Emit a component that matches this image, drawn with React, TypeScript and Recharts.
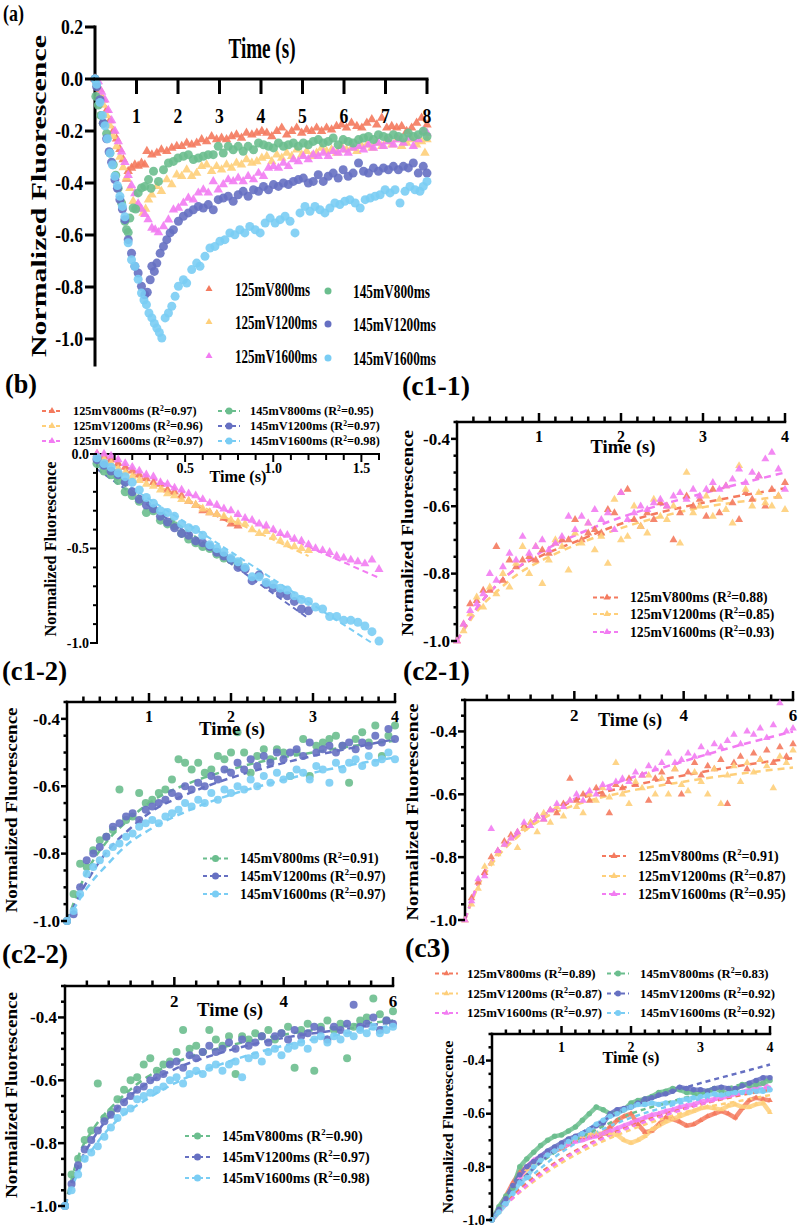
import React from 'react';
import { ComposedChart, Scatter, Line, XAxis, YAxis, Legend } from 'recharts';

const FONT = '"Liberation Serif", "Times New Roman", Times, serif';
const COL = { o: '#F47A5E', y: '#FECF7A', p: '#F27CF2', g: '#6BBE8E', b: '#6670C2', l: '#7ACDF4' };

const NAMES = ['125mV800ms', '125mV1200ms', '125mV1600ms', '145mV800ms', '145mV1200ms', '145mV1600ms'];
const COLORS6 = [COL.o, COL.y, COL.p, COL.g, COL.b, COL.l];
const SHAPES6 = ['tri', 'tri', 'tri', 'dot', 'dot', 'dot'];

// ---------------- Panel (a) data: [time (s), normalized fluorescence] ----------------
const A_125_800: [number, number][] = [[0,0],[0.04,-0.01],[0.12,-0.04],[0.2,-0.08],[0.28,-0.12],[0.36,-0.16],[0.44,-0.2],[0.52,-0.23],[0.6,-0.27],[0.68,-0.31],[0.76,-0.385],[0.8,-0.355],[0.88,-0.342],[0.96,-0.33],[1.04,-0.335],[1.12,-0.323],[1.2,-0.33],[1.25,-0.278],[1.37,-0.291],[1.49,-0.285],[1.6,-0.272],[1.73,-0.278],[1.85,-0.265],[1.97,-0.259],[2.09,-0.259],[2.21,-0.246],[2.33,-0.253],[2.45,-0.246],[2.57,-0.233],[2.69,-0.24],[2.81,-0.221],[2.93,-0.233],[3.05,-0.227],[3.17,-0.233],[3.29,-0.221],[3.41,-0.214],[3.53,-0.227],[3.65,-0.208],[3.78,-0.214],[3.9,-0.208],[4.02,-0.201],[4.14,-0.208],[4.26,-0.221],[4.38,-0.201],[4.5,-0.188],[4.62,-0.214],[4.74,-0.201],[4.86,-0.188],[4.98,-0.208],[5.1,-0.195],[5.22,-0.201],[5.34,-0.188],[5.46,-0.201],[5.58,-0.188],[5.7,-0.195],[5.82,-0.182],[5.94,-0.176],[6.06,-0.188],[6.18,-0.169],[6.31,-0.182],[6.43,-0.188],[6.55,-0.169],[6.67,-0.156],[6.79,-0.176],[6.91,-0.15],[7.03,-0.188],[7.15,-0.182],[7.27,-0.188],[7.39,-0.182],[7.51,-0.201],[7.63,-0.188],[7.75,-0.169],[7.87,-0.15],[8,-0.176]];
const A_125_1200: [number, number][] = [[0,0],[0.04,-0.02],[0.12,-0.06],[0.2,-0.1],[0.28,-0.14],[0.36,-0.18],[0.44,-0.22],[0.52,-0.26],[0.6,-0.3],[0.68,-0.34],[0.76,-0.38],[0.84,-0.42],[0.92,-0.47],[1.0,-0.49],[1.08,-0.5],[1.16,-0.515],[1.22,-0.5],[1.29,-0.464],[1.37,-0.445],[1.49,-0.413],[1.6,-0.432],[1.73,-0.387],[1.85,-0.406],[1.97,-0.368],[2.09,-0.374],[2.21,-0.349],[2.33,-0.374],[2.45,-0.362],[2.57,-0.336],[2.69,-0.33],[2.81,-0.355],[2.93,-0.336],[3.05,-0.349],[3.17,-0.33],[3.29,-0.342],[3.41,-0.323],[3.53,-0.33],[3.65,-0.31],[3.78,-0.323],[3.9,-0.317],[4.02,-0.304],[4.14,-0.297],[4.26,-0.317],[4.38,-0.291],[4.5,-0.304],[4.62,-0.285],[4.74,-0.297],[4.86,-0.272],[4.98,-0.291],[5.1,-0.278],[5.22,-0.297],[5.34,-0.285],[5.46,-0.265],[5.58,-0.278],[5.7,-0.272],[5.82,-0.285],[5.94,-0.259],[6.06,-0.272],[6.18,-0.265],[6.31,-0.278],[6.43,-0.259],[6.55,-0.253],[6.67,-0.265],[6.79,-0.246],[6.91,-0.259],[7.03,-0.24],[7.15,-0.253],[7.27,-0.233],[7.39,-0.259],[7.51,-0.246],[7.63,-0.233],[7.75,-0.253],[7.87,-0.24],[7.95,-0.285],[8,-0.233]];
const A_125_1600: [number, number][] = [[0,0],[0.08,-0.01],[0.16,-0.05],[0.24,-0.08],[0.32,-0.12],[0.4,-0.16],[0.48,-0.2],[0.56,-0.24],[0.64,-0.28],[0.72,-0.32],[0.8,-0.37],[0.88,-0.41],[0.96,-0.44],[1.04,-0.48],[1.12,-0.5],[1.2,-0.52],[1.28,-0.54],[1.37,-0.573],[1.45,-0.58],[1.53,-0.59],[1.65,-0.567],[1.77,-0.541],[1.89,-0.503],[2.01,-0.496],[2.13,-0.477],[2.25,-0.458],[2.37,-0.464],[2.49,-0.438],[2.61,-0.426],[2.73,-0.438],[2.85,-0.394],[2.97,-0.426],[3.09,-0.406],[3.21,-0.387],[3.33,-0.394],[3.45,-0.381],[3.57,-0.394],[3.69,-0.374],[3.82,-0.387],[3.94,-0.362],[4.06,-0.374],[4.18,-0.342],[4.3,-0.336],[4.42,-0.342],[4.54,-0.323],[4.66,-0.336],[4.78,-0.31],[4.9,-0.317],[5.02,-0.297],[5.14,-0.31],[5.26,-0.291],[5.38,-0.297],[5.5,-0.285],[5.62,-0.297],[5.74,-0.278],[5.86,-0.285],[5.98,-0.272],[6.1,-0.285],[6.22,-0.265],[6.35,-0.259],[6.47,-0.272],[6.59,-0.253],[6.71,-0.265],[6.83,-0.246],[6.95,-0.259],[7.07,-0.24],[7.19,-0.253],[7.31,-0.233],[7.43,-0.246],[7.55,-0.227],[7.67,-0.259],[7.79,-0.233],[7.91,-0.201],[8,-0.208]];
const A_145_800: [number, number][] = [[0,0],[0.02,-0.067],[0.08,-0.1],[0.14,-0.14],[0.2,-0.17],[0.28,-0.21],[0.36,-0.285],[0.44,-0.33],[0.5,-0.37],[0.56,-0.42],[0.64,-0.477],[0.72,-0.547],[0.76,-0.58],[0.8,-0.59],[0.84,-0.535],[0.92,-0.496],[0.98,-0.5],[1.04,-0.438],[1.12,-0.419],[1.2,-0.413],[1.29,-0.387],[1.35,-0.42],[1.41,-0.355],[1.53,-0.394],[1.65,-0.349],[1.77,-0.323],[1.89,-0.317],[2.0,-0.304],[2.13,-0.297],[2.25,-0.291],[2.37,-0.31],[2.49,-0.304],[2.61,-0.297],[2.73,-0.291],[2.85,-0.291],[2.97,-0.259],[3.09,-0.285],[3.21,-0.259],[3.33,-0.272],[3.45,-0.259],[3.57,-0.278],[3.69,-0.259],[3.82,-0.272],[3.94,-0.246],[4.06,-0.253],[4.18,-0.259],[4.3,-0.265],[4.42,-0.246],[4.54,-0.259],[4.66,-0.253],[4.78,-0.246],[4.9,-0.259],[5.02,-0.246],[5.14,-0.253],[5.26,-0.24],[5.38,-0.233],[5.5,-0.246],[5.62,-0.24],[5.74,-0.227],[5.86,-0.253],[5.98,-0.233],[6.1,-0.24],[6.22,-0.246],[6.35,-0.233],[6.47,-0.227],[6.59,-0.221],[6.71,-0.233],[6.83,-0.214],[6.95,-0.221],[7.07,-0.227],[7.19,-0.214],[7.31,-0.221],[7.43,-0.227],[7.55,-0.208],[7.67,-0.221],[7.79,-0.214],[7.91,-0.201],[8,-0.221]];
const A_145_1200: [number, number][] = [[0,0],[0.04,-0.03],[0.12,-0.08],[0.2,-0.17],[0.28,-0.23],[0.34,-0.28],[0.4,-0.32],[0.48,-0.387],[0.54,-0.42],[0.6,-0.464],[0.66,-0.5],[0.72,-0.541],[0.8,-0.618],[0.88,-0.67],[0.96,-0.72],[1.04,-0.746],[1.12,-0.797],[1.2,-0.83],[1.26,-0.82],[1.33,-0.772],[1.37,-0.72],[1.43,-0.74],[1.49,-0.708],[1.57,-0.67],[1.65,-0.644],[1.73,-0.618],[1.81,-0.592],[1.89,-0.58],[2.01,-0.547],[2.13,-0.528],[2.25,-0.515],[2.37,-0.503],[2.49,-0.49],[2.61,-0.496],[2.73,-0.483],[2.85,-0.503],[2.97,-0.464],[3.09,-0.458],[3.21,-0.451],[3.33,-0.47],[3.45,-0.445],[3.57,-0.432],[3.69,-0.451],[3.82,-0.426],[3.94,-0.432],[4.06,-0.413],[4.18,-0.426],[4.3,-0.406],[4.42,-0.413],[4.54,-0.4],[4.66,-0.406],[4.78,-0.394],[4.9,-0.387],[5.02,-0.381],[5.14,-0.4],[5.26,-0.394],[5.38,-0.368],[5.5,-0.394],[5.62,-0.374],[5.74,-0.362],[5.86,-0.381],[5.98,-0.349],[6.1,-0.374],[6.22,-0.362],[6.35,-0.323],[6.47,-0.355],[6.59,-0.362],[6.71,-0.342],[6.83,-0.355],[6.95,-0.342],[7.07,-0.349],[7.19,-0.336],[7.31,-0.349],[7.43,-0.336],[7.55,-0.342],[7.67,-0.323],[7.79,-0.362],[7.91,-0.336],[8,-0.362]];
const A_145_1600: [number, number][] = [[0,0],[0.04,-0.02],[0.12,-0.09],[0.18,-0.14],[0.24,-0.18],[0.3,-0.23],[0.36,-0.285],[0.42,-0.33],[0.48,-0.374],[0.54,-0.41],[0.6,-0.451],[0.66,-0.49],[0.72,-0.53],[0.8,-0.63],[0.88,-0.695],[0.96,-0.72],[1.04,-0.77],[1.12,-0.823],[1.18,-0.85],[1.24,-0.868],[1.3,-0.9],[1.37,-0.919],[1.43,-0.94],[1.49,-0.958],[1.55,-0.975],[1.61,-0.996],[1.69,-0.919],[1.77,-0.9],[1.85,-0.874],[1.93,-0.836],[2.01,-0.797],[2.13,-0.772],[2.21,-0.785],[2.33,-0.733],[2.45,-0.708],[2.53,-0.72],[2.65,-0.682],[2.77,-0.65],[2.89,-0.644],[3.01,-0.624],[3.13,-0.618],[3.25,-0.592],[3.37,-0.599],[3.49,-0.58],[3.61,-0.592],[3.73,-0.567],[3.86,-0.58],[3.98,-0.592],[4.1,-0.554],[4.22,-0.535],[4.34,-0.554],[4.46,-0.541],[4.58,-0.528],[4.7,-0.547],[4.82,-0.592],[4.94,-0.515],[5.06,-0.49],[5.18,-0.509],[5.3,-0.49],[5.42,-0.503],[5.54,-0.515],[5.66,-0.496],[5.78,-0.477],[5.9,-0.483],[6.02,-0.47],[6.14,-0.464],[6.27,-0.477],[6.39,-0.496],[6.51,-0.464],[6.63,-0.458],[6.75,-0.451],[6.87,-0.445],[6.99,-0.426],[7.11,-0.438],[7.23,-0.426],[7.35,-0.477],[7.47,-0.432],[7.59,-0.413],[7.71,-0.426],[7.83,-0.432],[7.91,-0.413],[8,-0.394]];
const A_XTICKS = [1, 2, 3, 4, 5, 6, 7, 8];
const A_YTICKS = [0.2, 0, -0.2, -0.4, -0.6, -0.8, -1.0];
const A_XRANGE = [{ t: 0, v: 0 }, { t: 8, v: 1 }];

// ---------------- Panel (b) data ----------------
const B_125_800: [number, number][] = [[0,0],[0.04,-0.01],[0.08,-0.03],[0.12,-0.05],[0.16,-0.07],[0.2,-0.09],[0.24,-0.11],[0.28,-0.13],[0.32,-0.15],[0.36,-0.16],[0.4,-0.19],[0.44,-0.2],[0.48,-0.22],[0.52,-0.25],[0.56,-0.27],[0.6,-0.3],[0.64,-0.31],[0.68,-0.32],[0.72,-0.34],[0.76,-0.37],[0.8,-0.38]];
const B_125_1200: [number, number][] = [[0,-0.01],[0.04,-0.03],[0.08,-0.05],[0.12,-0.08],[0.16,-0.1],[0.2,-0.12],[0.24,-0.14],[0.28,-0.16],[0.32,-0.17],[0.36,-0.19],[0.4,-0.21],[0.44,-0.22],[0.48,-0.24],[0.52,-0.25],[0.56,-0.27],[0.6,-0.29],[0.64,-0.31],[0.68,-0.32],[0.72,-0.33],[0.76,-0.35],[0.8,-0.36],[0.84,-0.37],[0.88,-0.4],[0.92,-0.42],[0.96,-0.41],[1.0,-0.44],[1.04,-0.46],[1.08,-0.48],[1.12,-0.49],[1.16,-0.5],[1.2,-0.51]];
const B_125_1600: [number, number][] = [[0,0],[0.04,0],[0.08,-0.01],[0.12,-0.03],[0.16,-0.05],[0.2,-0.07],[0.24,-0.09],[0.28,-0.11],[0.32,-0.12],[0.36,-0.15],[0.4,-0.16],[0.44,-0.18],[0.48,-0.19],[0.52,-0.21],[0.56,-0.22],[0.6,-0.24],[0.64,-0.26],[0.68,-0.27],[0.72,-0.29],[0.76,-0.3],[0.8,-0.32],[0.84,-0.34],[0.88,-0.35],[0.92,-0.37],[0.96,-0.38],[1.0,-0.4],[1.04,-0.42],[1.08,-0.43],[1.12,-0.45],[1.16,-0.46],[1.2,-0.48],[1.24,-0.5],[1.28,-0.51],[1.32,-0.52],[1.36,-0.54],[1.4,-0.55],[1.44,-0.56],[1.48,-0.57],[1.52,-0.58],[1.56,-0.56],[1.6,-0.61]];
const B_145_800: [number, number][] = [[0,-0.05],[0.04,-0.09],[0.08,-0.11],[0.12,-0.14],[0.16,-0.2],[0.2,-0.22],[0.24,-0.25],[0.28,-0.31],[0.32,-0.3],[0.36,-0.35],[0.4,-0.37],[0.44,-0.38],[0.48,-0.42],[0.52,-0.45],[0.56,-0.47],[0.6,-0.49],[0.64,-0.5],[0.68,-0.53],[0.72,-0.55],[0.76,-0.56],[0.8,-0.58]];
const B_145_1200: [number, number][] = [[0,-0.03],[0.04,-0.06],[0.08,-0.09],[0.12,-0.11],[0.16,-0.15],[0.2,-0.2],[0.24,-0.24],[0.28,-0.27],[0.32,-0.29],[0.36,-0.33],[0.4,-0.36],[0.44,-0.39],[0.48,-0.42],[0.52,-0.43],[0.56,-0.46],[0.6,-0.47],[0.64,-0.49],[0.68,-0.52],[0.72,-0.54],[0.76,-0.56],[0.8,-0.6],[0.84,-0.61],[0.88,-0.67],[0.92,-0.64],[0.96,-0.69],[1.0,-0.71],[1.04,-0.74],[1.08,-0.75],[1.12,-0.78],[1.16,-0.82],[1.2,-0.83]];
const B_145_1600: [number, number][] = [[0,-0.02],[0.04,-0.05],[0.08,-0.07],[0.12,-0.1],[0.16,-0.12],[0.2,-0.15],[0.24,-0.19],[0.28,-0.23],[0.32,-0.26],[0.36,-0.3],[0.4,-0.31],[0.44,-0.33],[0.48,-0.37],[0.52,-0.39],[0.56,-0.4],[0.6,-0.43],[0.64,-0.48],[0.68,-0.5],[0.72,-0.52],[0.76,-0.55],[0.8,-0.57],[0.84,-0.6],[0.88,-0.65],[0.92,-0.65],[0.96,-0.68],[1.0,-0.69],[1.04,-0.71],[1.08,-0.72],[1.12,-0.75],[1.16,-0.77],[1.2,-0.78],[1.24,-0.81],[1.28,-0.82],[1.32,-0.86],[1.36,-0.86],[1.4,-0.88],[1.44,-0.88],[1.48,-0.89],[1.52,-0.91],[1.56,-0.94],[1.6,-0.99]];
const B_FIT_125_800: [number, number][] = [[0,-0.01],[0.8,-0.385]];
const B_FIT_125_1200: [number, number][] = [[0,-0.02],[1.2,-0.54]];
const B_FIT_125_1600: [number, number][] = [[0,0],[1.6,-0.655]];
const B_FIT_145_800: [number, number][] = [[0,-0.06],[0.8,-0.6]];
const B_FIT_145_1200: [number, number][] = [[0,-0.08],[1.2,-0.87]];
const B_FIT_145_1600: [number, number][] = [[0,-0.06],[1.56,-1.0]];
const B_R2 = ['0.97', '0.96', '0.97', '0.95', '0.97', '0.98'];
const B_XTICKS = [0.1,0.2,0.3,0.4,0.5,0.6,0.7,0.8,0.9,1.0,1.1,1.2,1.3,1.4,1.5,1.6];
const B_YTICKS = [0,-0.1,-0.2,-0.3,-0.4,-0.5,-0.6,-0.7,-0.8,-0.9,-1.0];

// ---------------- Panels (c1-x): 0-4 s ----------------
const T_C1 = [0,0.08,0.16,0.24,0.32,0.4,0.48,0.56,0.64,0.72,0.8,0.88,0.96,1.04,1.12,1.2,1.28,1.36,1.44,1.52,1.6,1.68,1.76,1.84,1.92,2.0,2.08,2.16,2.24,2.32,2.4,2.48,2.56,2.64,2.72,2.8,2.88,2.96,3.04,3.12,3.2,3.28,3.36,3.44,3.52,3.6,3.68,3.76,3.84,3.92,4.0];
const C11_125_800 = [-1.0,-0.95,-0.89,-0.88,-0.85,-0.85,-0.72,-0.82,-0.76,-0.78,-0.76,-0.75,-0.76,-0.73,-0.74,-0.71,-0.7,-0.7,-0.64,-0.7,-0.68,-0.67,-0.68,-0.61,-0.62,-0.56,-0.55,-0.64,-0.66,-0.62,-0.64,-0.59,-0.6,-0.7,-0.62,-0.57,-0.6,-0.58,-0.63,-0.55,-0.62,-0.54,-0.59,-0.64,-0.56,-0.58,-0.51,-0.6,-0.55,-0.57,-0.53];
const C11_125_1200 = [-1.0,-0.97,-0.92,-0.87,-0.9,-0.84,-0.86,-0.8,-0.84,-0.77,-0.72,-0.8,-0.72,-0.83,-0.76,-0.7,-0.72,-0.79,-0.68,-0.71,-0.65,-0.73,-0.69,-0.77,-0.58,-0.7,-0.69,-0.6,-0.66,-0.68,-0.58,-0.63,-0.64,-0.6,-0.71,-0.5,-0.62,-0.6,-0.57,-0.63,-0.58,-0.61,-0.65,-0.48,-0.55,-0.6,-0.56,-0.59,-0.6,-0.57,-0.61];
const C11_125_1600 = [-1.0,-0.95,-0.91,-0.89,-0.86,-0.8,-0.82,-0.78,-0.74,-0.76,-0.69,-0.74,-0.72,-0.7,-0.73,-0.71,-0.69,-0.63,-0.67,-0.63,-0.65,-0.61,-0.64,-0.62,-0.67,-0.56,-0.64,-0.62,-0.6,-0.61,-0.59,-0.58,-0.6,-0.57,-0.56,-0.58,-0.55,-0.57,-0.55,-0.53,-0.55,-0.54,-0.52,-0.49,-0.53,-0.5,-0.51,-0.46,-0.44,-0.49,-0.55];
const C12_145_800 = [-1.0,-0.92,-0.83,-0.84,-0.79,-0.76,-0.75,-0.73,-0.61,-0.7,-0.69,-0.62,-0.65,-0.64,-0.62,-0.61,-0.58,-0.52,-0.53,-0.55,-0.53,-0.56,-0.55,-0.51,-0.52,-0.5,-0.44,-0.5,-0.56,-0.51,-0.49,-0.52,-0.49,-0.5,-0.57,-0.5,-0.46,-0.57,-0.48,-0.47,-0.46,-0.45,-0.48,-0.59,-0.46,-0.44,-0.47,-0.42,-0.51,-0.45,-0.42];
const C12_145_1200 = [-1.0,-0.98,-0.9,-0.82,-0.8,-0.78,-0.75,-0.72,-0.71,-0.69,-0.68,-0.7,-0.67,-0.66,-0.65,-0.64,-0.62,-0.63,-0.6,-0.61,-0.59,-0.6,-0.57,-0.58,-0.55,-0.56,-0.53,-0.55,-0.52,-0.54,-0.51,-0.53,-0.5,-0.52,-0.5,-0.49,-0.51,-0.47,-0.5,-0.49,-0.48,-0.5,-0.48,-0.47,-0.49,-0.47,-0.48,-0.45,-0.47,-0.43,-0.46];
const C12_145_1600 = [-1.0,-0.97,-0.92,-0.86,-0.84,-0.82,-0.8,-0.78,-0.77,-0.75,-0.74,-0.72,-0.71,-0.7,-0.71,-0.69,-0.68,-0.67,-0.65,-0.66,-0.64,-0.65,-0.62,-0.64,-0.61,-0.62,-0.6,-0.61,-0.58,-0.6,-0.57,-0.59,-0.56,-0.58,-0.57,-0.55,-0.56,-0.58,-0.54,-0.55,-0.59,-0.53,-0.55,-0.53,-0.52,-0.54,-0.51,-0.53,-0.52,-0.5,-0.52];
const T_FIT1 = [0,0.25,0.5,0.75,1,1.5,2,2.5,3,3.5,4];
const C11_FIT_125_800 = [-1.0,-0.9,-0.83,-0.78,-0.75,-0.7,-0.652,-0.617,-0.59,-0.567,-0.547];
const C11_FIT_125_1200 = [-1.0,-0.91,-0.85,-0.8,-0.765,-0.71,-0.665,-0.63,-0.603,-0.585,-0.57];
const C11_FIT_125_1600 = [-1.0,-0.9,-0.83,-0.78,-0.74,-0.68,-0.633,-0.595,-0.562,-0.53,-0.5];
const C12_FIT_145_800 = [-1.0,-0.85,-0.76,-0.7,-0.65,-0.59,-0.55,-0.52,-0.5,-0.48,-0.465];
const C12_FIT_145_1200 = [-1.0,-0.88,-0.79,-0.73,-0.68,-0.62,-0.575,-0.54,-0.51,-0.485,-0.46];
const C12_FIT_145_1600 = [-1.0,-0.9,-0.83,-0.77,-0.73,-0.67,-0.625,-0.59,-0.56,-0.535,-0.515];
const C11_R2 = ['0.88', '0.85', '0.93'];
const C12_R2 = ['0.91', '0.97', '0.97'];
const C1_XTICKS = [0.2,0.4,0.6,0.8,1,1.2,1.4,1.6,1.8,2,2.2,2.4,2.6,2.8,3,3.2,3.4,3.6,3.8,4];
const C1_YTICKS = [-1.0,-0.95,-0.9,-0.85,-0.8,-0.75,-0.7,-0.65,-0.6,-0.55,-0.5,-0.45,-0.4,-0.35];

// ---------------- Panels (c2-x): 0-6 s ----------------
const T_C2 = [0,0.12,0.24,0.36,0.48,0.6,0.72,0.84,0.96,1.08,1.2,1.32,1.44,1.56,1.68,1.8,1.92,2.04,2.16,2.28,2.4,2.52,2.64,2.76,2.88,3.0,3.12,3.24,3.36,3.48,3.6,3.72,3.84,3.96,4.08,4.2,4.32,4.44,4.56,4.68,4.8,4.92,5.04,5.16,5.28,5.4,5.52,5.64,5.76,5.88,6.0];
const C21_125_800 = [-1.0,-0.93,-0.88,-0.85,-0.8,-0.78,-0.75,-0.73,-0.72,-0.7,-0.69,-0.67,-0.68,-0.65,-0.66,-0.63,-0.55,-0.62,-0.6,-0.62,-0.58,-0.6,-0.66,-0.57,-0.58,-0.55,-0.57,-0.54,-0.62,-0.55,-0.53,-0.56,-0.52,-0.6,-0.53,-0.5,-0.54,-0.51,-0.52,-0.49,-0.63,-0.5,-0.48,-0.52,-0.47,-0.49,-0.46,-0.5,-0.45,-0.48,-0.44];
const C21_125_1200 = [-1.0,-0.95,-0.9,-0.83,-0.82,-0.79,-0.76,-0.74,-0.77,-0.71,-0.69,-0.72,-0.66,-0.69,-0.64,-0.67,-0.62,-0.64,-0.66,-0.6,-0.62,-0.58,-0.61,-0.5,-0.6,-0.63,-0.56,-0.58,-0.54,-0.6,-0.55,-0.6,-0.52,-0.57,-0.59,-0.53,-0.56,-0.6,-0.52,-0.63,-0.54,-0.51,-0.56,-0.5,-0.53,-0.49,-0.51,-0.58,-0.48,-0.5,-0.46];
const C21_125_1600 = [-1.0,-0.94,-0.87,-0.86,-0.71,-0.78,-0.76,-0.74,-0.72,-0.69,-0.7,-0.67,-0.68,-0.65,-0.63,-0.64,-0.62,-0.6,-0.62,-0.59,-0.6,-0.57,-0.58,-0.56,-0.55,-0.56,-0.53,-0.54,-0.51,-0.52,-0.5,-0.47,-0.5,-0.49,-0.47,-0.48,-0.45,-0.47,-0.44,-0.45,-0.43,-0.41,-0.44,-0.4,-0.41,-0.39,-0.42,-0.38,-0.31,-0.4,-0.39];
const C22_145_800 = [-1.0,-0.9,-0.85,-0.79,-0.76,-0.61,-0.72,-0.7,-0.66,-0.63,-0.6,-0.59,-0.55,-0.53,-0.57,-0.55,-0.54,-0.51,-0.44,-0.5,-0.49,-0.51,-0.44,-0.47,-0.49,-0.46,-0.58,-0.46,-0.47,-0.45,-0.46,-0.44,-0.47,-0.45,-0.43,-0.56,-0.44,-0.42,-0.57,-0.43,-0.41,-0.44,-0.42,-0.53,-0.43,-0.41,-0.4,-0.34,-0.39,-0.41,-0.38];
const C22_145_1200 = [-1.0,-0.93,-0.87,-0.82,-0.79,-0.76,-0.73,-0.71,-0.69,-0.67,-0.65,-0.63,-0.62,-0.6,-0.59,-0.58,-0.55,-0.54,-0.56,-0.52,-0.53,-0.51,-0.49,-0.51,-0.5,-0.48,-0.5,-0.47,-0.49,-0.48,-0.46,-0.48,-0.46,-0.45,-0.47,-0.44,-0.46,-0.45,-0.43,-0.44,-0.47,-0.43,-0.44,-0.42,-0.36,-0.43,-0.42,-0.4,-0.44,-0.41,-0.42];
const C22_145_1600 = [-1.0,-0.95,-0.9,-0.85,-0.83,-0.81,-0.78,-0.75,-0.72,-0.7,-0.69,-0.66,-0.65,-0.64,-0.63,-0.62,-0.6,-0.59,-0.61,-0.58,-0.57,-0.58,-0.56,-0.55,-0.57,-0.55,-0.54,-0.59,-0.53,-0.52,-0.54,-0.51,-0.5,-0.52,-0.5,-0.49,-0.48,-0.5,-0.47,-0.46,-0.48,-0.46,-0.47,-0.45,-0.46,-0.44,-0.45,-0.43,-0.45,-0.44,-0.43];
const T_FIT2 = [0,0.25,0.5,1,1.5,2,3,4,5,6];
const C21_FIT_125_800 = [-1.0,-0.88,-0.81,-0.72,-0.66,-0.62,-0.575,-0.54,-0.51,-0.485];
const C21_FIT_125_1200 = [-1.0,-0.89,-0.82,-0.73,-0.67,-0.635,-0.59,-0.56,-0.535,-0.515];
const C21_FIT_125_1600 = [-1.0,-0.88,-0.81,-0.72,-0.66,-0.615,-0.55,-0.495,-0.445,-0.4];
const C22_FIT_145_800 = [-1.0,-0.84,-0.76,-0.66,-0.59,-0.545,-0.49,-0.455,-0.43,-0.41];
const C22_FIT_145_1200 = [-1.0,-0.87,-0.79,-0.68,-0.61,-0.565,-0.505,-0.465,-0.44,-0.415];
const C22_FIT_145_1600 = [-1.0,-0.89,-0.82,-0.72,-0.66,-0.61,-0.54,-0.49,-0.455,-0.425];
const C21_R2 = ['0.91', '0.87', '0.95'];
const C22_R2 = ['0.90', '0.97', '0.98'];
const C2_XTICKS = [0.4,0.8,1.2,1.6,2,2.4,2.8,3.2,3.6,4,4.4,4.8,5.2,5.6,6];
const C2_YTICKS = [-1.0,-0.95,-0.9,-0.85,-0.8,-0.75,-0.7,-0.65,-0.6,-0.55,-0.5,-0.45,-0.4,-0.35,-0.3];

// ---------------- Panel (c3): averaged traces, 0-4 s ----------------
const T_C3 = [0,0.1,0.2,0.3,0.4,0.5,0.6,0.7,0.8,0.9,1.0,1.1,1.2,1.3,1.4,1.5,1.6,1.7,1.8,1.9,2.0,2.1,2.2,2.3,2.4,2.5,2.6,2.7,2.8,2.9,3.0,3.1,3.2,3.3,3.4,3.5,3.6,3.7,3.8,3.9,4.0];
const C3_125_800 = [-1.0,-0.96,-0.91,-0.86,-0.82,-0.8,-0.78,-0.765,-0.75,-0.74,-0.73,-0.715,-0.7,-0.69,-0.685,-0.68,-0.675,-0.65,-0.625,-0.61,-0.6,-0.64,-0.67,-0.665,-0.64,-0.615,-0.62,-0.63,-0.645,-0.64,-0.625,-0.61,-0.6,-0.59,-0.6,-0.615,-0.58,-0.55,-0.54,-0.545,-0.55];
const C3_125_1200 = [-1.0,-0.97,-0.92,-0.87,-0.84,-0.81,-0.79,-0.77,-0.75,-0.735,-0.725,-0.71,-0.695,-0.685,-0.68,-0.675,-0.675,-0.675,-0.68,-0.7,-0.71,-0.7,-0.685,-0.66,-0.645,-0.63,-0.62,-0.61,-0.6,-0.59,-0.58,-0.575,-0.58,-0.585,-0.57,-0.565,-0.575,-0.575,-0.565,-0.56,-0.595];
const C3_125_1600 = [-1.0,-0.96,-0.92,-0.87,-0.84,-0.8,-0.775,-0.76,-0.745,-0.735,-0.725,-0.715,-0.705,-0.7,-0.69,-0.685,-0.675,-0.665,-0.655,-0.645,-0.635,-0.625,-0.615,-0.605,-0.6,-0.59,-0.585,-0.575,-0.57,-0.565,-0.555,-0.55,-0.545,-0.54,-0.535,-0.525,-0.52,-0.51,-0.5,-0.485,-0.505];
const C3_145_800 = [-1.0,-0.95,-0.91,-0.88,-0.8,-0.77,-0.745,-0.72,-0.7,-0.685,-0.68,-0.665,-0.65,-0.625,-0.6,-0.575,-0.585,-0.6,-0.595,-0.585,-0.56,-0.55,-0.545,-0.535,-0.52,-0.515,-0.505,-0.51,-0.52,-0.52,-0.525,-0.515,-0.505,-0.515,-0.525,-0.51,-0.49,-0.495,-0.49,-0.485,-0.475];
const C3_145_1200 = [-1.0,-0.96,-0.92,-0.87,-0.83,-0.8,-0.78,-0.76,-0.74,-0.725,-0.71,-0.695,-0.685,-0.675,-0.66,-0.645,-0.635,-0.6,-0.585,-0.58,-0.575,-0.56,-0.545,-0.54,-0.53,-0.525,-0.515,-0.5,-0.505,-0.51,-0.51,-0.515,-0.505,-0.5,-0.505,-0.505,-0.495,-0.485,-0.475,-0.465,-0.465];
const C3_145_1600 = [-1.0,-0.97,-0.94,-0.9,-0.86,-0.84,-0.8,-0.775,-0.755,-0.74,-0.725,-0.705,-0.69,-0.675,-0.66,-0.64,-0.625,-0.61,-0.6,-0.585,-0.575,-0.565,-0.565,-0.56,-0.565,-0.56,-0.56,-0.55,-0.545,-0.54,-0.535,-0.53,-0.525,-0.53,-0.525,-0.52,-0.52,-0.52,-0.515,-0.515,-0.51];
const T_FIT3 = [0,0.25,0.5,1,1.5,2,2.5,3,3.5,4];
const C3_FIT_125_800 = [-1.0,-0.92,-0.86,-0.77,-0.7,-0.645,-0.6,-0.565,-0.535,-0.51];
const C3_FIT_125_1200 = [-1.0,-0.93,-0.875,-0.785,-0.715,-0.66,-0.615,-0.58,-0.555,-0.53];
const C3_FIT_125_1600 = [-1.0,-0.93,-0.87,-0.775,-0.705,-0.65,-0.605,-0.565,-0.53,-0.5];
const C3_FIT_145_800 = [-1.0,-0.9,-0.83,-0.73,-0.66,-0.6,-0.56,-0.525,-0.495,-0.47];
const C3_FIT_145_1200 = [-1.0,-0.9,-0.83,-0.72,-0.64,-0.575,-0.525,-0.485,-0.45,-0.415];
const C3_FIT_145_1600 = [-1.0,-0.91,-0.85,-0.745,-0.67,-0.615,-0.575,-0.545,-0.52,-0.5];
const C3_R2 = ['0.89', '0.87', '0.97', '0.83', '0.92', '0.92'];
const C3_XTICKS = [0.2,0.4,0.6,0.8,1,1.2,1.4,1.6,1.8,2,2.2,2.4,2.6,2.8,3,3.2,3.4,3.6,3.8,4];
const C3_YTICKS = C2_YTICKS;

// ---------------- helpers ----------------
type Pt = { t: number; v: number };
const pairs = (a: [number, number][]): Pt[] => a.map(([t, v]) => ({ t, v }));
const zipTV = (T: number[], V: number[]): Pt[] => T.map((t, i) => ({ t, v: V[i] }));

function triPoints(cx: number, cy: number, s: number) {
  const h = s * 0.866;
  return `${cx},${cy - (h * 2) / 3} ${cx - s / 2},${cy + h / 3} ${cx + s / 2},${cy + h / 3}`;
}
function Mark({ kind, cx, cy, size, color, op = 0.9 }: any) {
  if (cx == null || cy == null || isNaN(cx) || isNaN(cy)) return <g />;
  return kind === 'tri' ? (
    <polygon points={triPoints(cx, cy, size)} fill={color} fillOpacity={op} />
  ) : (
    <circle cx={cx} cy={cy} r={size / 2} fill={color} fillOpacity={op} />
  );
}
const shapeFn = (kind: string, size: number, color: string, op = 0.9) => (p: any) => (
  <Mark kind={kind} cx={p.cx} cy={p.cy} size={size} color={color} op={op} />
);
const emptyShape = () => <g />;

const near = (arr: number[], v: number) => arr.some((m) => Math.abs(m - v) < 1e-6);

const xTick = (c: any) => (p: any) => {
  const { x, y, payload } = p;
  const v = payload.value;
  const maj = near(c.major, v);
  const len = maj ? c.majorLen : c.minorLen;
  return (
    <g>
      <line x1={x} y1={y} x2={x} y2={y + c.dir * len} stroke="#000" strokeWidth={c.sw} />
      {maj && (
        <text transform={`translate(${x},${y + c.dy}) scale(${c.sx},1)`} textAnchor="middle" fontFamily={FONT} fontWeight={700} fontSize={c.fs} fill="#000">
          {c.fmt(v)}
        </text>
      )}
    </g>
  );
};
const yTick = (c: any) => (p: any) => {
  const { x, y, payload } = p;
  const v = payload.value;
  const maj = near(c.major, v);
  const len = maj ? c.majorLen : c.minorLen;
  return (
    <g>
      <line x1={x} y1={y} x2={x - len} y2={y} stroke="#000" strokeWidth={c.sw} />
      {maj && (
        <text transform={`translate(${x - c.gap},${y + c.fs * 0.34}) scale(${c.sx},1)`} textAnchor="end" fontFamily={FONT} fontWeight={700} fontSize={c.fs} fill="#000">
          {c.fmt(v)}
        </text>
      )}
    </g>
  );
};
const f1 = (v: number) => (Math.abs(v) < 1e-9 ? '0.0' : v.toFixed(1));
const f0 = (v: number) => String(Math.round(v));

function RText({ x, y, fs, name, r2 }: any) {
  return (
    <text x={x} y={y} fontFamily={FONT} fontWeight={700} fontSize={fs} fill="#000">
      {name} (R<tspan dy={-fs * 0.38} fontSize={fs * 0.62}>2</tspan>
      <tspan dy={fs * 0.38}>={r2})</tspan>
    </text>
  );
}
function LegRow({ x1, x2, y, color, kind, size, tx, fs, name, r2 }: any) {
  return (
    <g>
      <line x1={x1} y1={y} x2={x2} y2={y} stroke={color} strokeWidth={2} strokeDasharray="4 3" />
      <Mark kind={kind} cx={(x1 + x2) / 2} cy={y} size={size} color={color} op={1} />
      <RText x={tx} y={y + fs * 0.34} fs={fs} name={name} r2={r2} />
    </g>
  );
}

type SeriesDef = { data: Pt[]; color: string; kind: string; size: number };
type FitDef = { data: Pt[]; color: string };

function Panel(p: any) {
  const xH = p.hideX ? 0 : 1;
  const yW = p.hideY ? 0 : 1;
  const left = p.px - p.ml - yW;
  const top = p.py - p.mt - xH;
  const width = p.ml + yW + p.pw + p.mr;
  const height = p.mt + xH + p.ph + p.mb;
  const axisLine = { stroke: '#000', strokeWidth: p.aw, strokeLinecap: 'square' };
  const series: SeriesDef[] = p.series || [];
  const fits: FitDef[] = p.fits || [];
  const traces: SeriesDef[] = p.traces || [];
  return (
    <div style={{ position: 'absolute', left, top, width, height }}>
      <ComposedChart width={width} height={height} margin={{ top: p.mt, right: p.mr, bottom: p.mb, left: p.ml }}>
        <XAxis
          type="number" dataKey="t" orientation="top" domain={p.xDomain} ticks={p.xTicks} interval={0}
          height={1} hide={!!p.hideX} tick={p.xTick} tickLine={false} tickSize={0} tickMargin={0} axisLine={axisLine}
        />
        <YAxis
          type="number" dataKey="v" domain={p.yDomain} ticks={p.yTicks} interval={0}
          width={1} hide={!!p.hideY} tick={p.yTick} tickLine={false} tickSize={0} tickMargin={0} axisLine={axisLine}
        />
        {p.ghost && <Scatter data={p.ghost} shape={emptyShape} isAnimationActive={false} legendType="none" />}
        {traces.map((s, i) => (
          <Line
            key={'tr' + i} data={s.data} dataKey="v" type="linear" stroke={s.color} strokeWidth={4.5} strokeOpacity={0.85}
            dot={false} activeDot={false} isAnimationActive={false} legendType="none"
          />
        ))}
        {series.map((s, i) => (
          <Scatter key={'s' + i} data={s.data} fill={s.color} shape={shapeFn(s.kind, s.size, s.color)} isAnimationActive={false} />
        ))}
        {traces.map((s, i) => (
          <Scatter key={'tm' + i} data={s.data} fill={s.color} shape={shapeFn(s.kind, s.size, s.color, 0.95)} isAnimationActive={false} />
        ))}
        {fits.map((f, i) => (
          <Line
            key={'f' + i} data={f.data} dataKey="v" type="monotone" stroke={f.color} strokeWidth={p.fitW || 2.5}
            strokeDasharray={p.fitDash || '7 5'} dot={false} activeDot={false} isAnimationActive={false} legendType="none"
          />
        ))}
        {p.legend && (
          <Legend
            layout="vertical" align="center" verticalAlign="middle"
            wrapperStyle={{ left: 0, top: 0, width, height, pointerEvents: 'none' }}
            content={() => (
              <svg width={width} height={height} style={{ position: 'absolute', left: 0, top: 0 }}>
                <g transform={`translate(${-left},${-top})`}>{p.legend}</g>
              </svg>
            )}
          />
        )}
      </ComposedChart>
    </div>
  );
}

function Txt({ x, y, fs, len, anchor = 'start', rot = false, children }: any) {
  return (
    <text
      x={rot ? 0 : x} y={rot ? 0 : y}
      transform={rot ? `translate(${x},${y}) rotate(-90)` : undefined}
      textAnchor={rot ? 'middle' : anchor}
      fontFamily={FONT} fontWeight={700} fontSize={fs} fill="#000"
      textLength={len} lengthAdjust="spacingAndGlyphs"
    >
      {children}
    </text>
  );
}

export default function App() {
  // ---- (a) ----
  const aData = [A_125_800, A_125_1200, A_125_1600, A_145_800, A_145_1200, A_145_1600];
  const aSeries = aData.map((d, i) => ({ data: pairs(d), color: COLORS6[i], kind: SHAPES6[i], size: SHAPES6[i] === 'tri' ? 9.5 : 9 }));
  const aRowsL = [289, 322, 356];
  const aRowsR = [291, 324, 358];
  const aWL = [75, 82, 82];
  const aWR = [77, 83, 83];
  const legendA = (
    <g>
      {[0, 1, 2].map((i) => (
        <g key={'al' + i}>
          <Mark kind="tri" cx={209} cy={aRowsL[i]} size={7} color={COLORS6[i]} op={1} />
          <text x={235} y={aRowsL[i] + 6.5} fontFamily={FONT} fontWeight={700} fontSize={19} textLength={aWL[i]} lengthAdjust="spacingAndGlyphs">{NAMES[i]}</text>
          <Mark kind="dot" cx={328} cy={aRowsR[i]} size={7} color={COLORS6[i + 3]} op={1} />
          <text x={353} y={aRowsR[i] + 6.5} fontFamily={FONT} fontWeight={700} fontSize={19} textLength={aWR[i]} lengthAdjust="spacingAndGlyphs">{NAMES[i + 3]}</text>
        </g>
      ))}
    </g>
  );
  const aX = xTick({ major: A_XTICKS, majorLen: 15, minorLen: 15, dir: 1, fs: 22, sx: 0.8, dy: 44, fmt: f0, sw: 3 });
  const aY = yTick({ major: A_YTICKS, majorLen: 10, minorLen: 10, fs: 22, sx: 0.8, gap: 12, fmt: f1, sw: 3 });

  // ---- (b) ----
  const bData = [B_125_800, B_125_1200, B_125_1600, B_145_800, B_145_1200, B_145_1600];
  const bFitsRaw = [B_FIT_125_800, B_FIT_125_1200, B_FIT_125_1600, B_FIT_145_800, B_FIT_145_1200, B_FIT_145_1600];
  const bSeries = bData.map((d, i) => ({ data: pairs(d), color: COLORS6[i], kind: SHAPES6[i], size: 9 }));
  const bFits = bFitsRaw.map((d, i) => ({ data: pairs(d), color: COLORS6[i] }));
  const bRows = [411, 426, 441];
  const legendB = (
    <g>
      {[0, 1, 2].map((i) => (
        <g key={'bl' + i}>
          <LegRow x1={42} x2={62} y={bRows[i]} color={COLORS6[i]} kind="tri" size={7} tx={73} fs={12.3} name={NAMES[i]} r2={B_R2[i]} />
          <LegRow x1={218} x2={240} y={bRows[i]} color={COLORS6[i + 3]} kind="dot" size={7} tx={250} fs={12.3} name={NAMES[i + 3]} r2={B_R2[i + 3]} />
        </g>
      ))}
    </g>
  );
  const bX = xTick({ major: [0.5, 1, 1.5], majorLen: 8, minorLen: 6, dir: 1, fs: 14, sx: 1, dy: 19, fmt: f1, sw: 2 });
  const bY = yTick({ major: [0, -0.5, -1], majorLen: 7, minorLen: 4, fs: 14, sx: 1, gap: 8, fmt: f1, sw: 2 });

  // ---- c1 ----
  const c1X = xTick({ major: [1, 2, 3, 4], majorLen: 9, minorLen: 5.5, dir: -1, fs: 16, sx: 1, dy: 20, fmt: f0, sw: 2.5 });
  const c1Y = yTick({ major: [-1, -0.8, -0.6, -0.4], majorLen: 6, minorLen: 3.5, fs: 17, sx: 1, gap: 7, fmt: f1, sw: 2.5 });
  const c11Vals = [C11_125_800, C11_125_1200, C11_125_1600];
  const c11FitVals = [C11_FIT_125_800, C11_FIT_125_1200, C11_FIT_125_1600];
  const c11Series = c11Vals.map((v, i) => ({ data: zipTV(T_C1, v), color: COLORS6[i], kind: 'tri', size: 8 }));
  const c11Fits = c11FitVals.map((v, i) => ({ data: zipTV(T_FIT1, v), color: COLORS6[i] }));
  const c11Rows = [597.5, 614, 632];
  const legendC11 = (
    <g>
      {[0, 1, 2].map((i) => (
        <LegRow key={'c11' + i} x1={593} x2={621} y={c11Rows[i]} color={COLORS6[i]} kind="tri" size={7} tx={630} fs={13.7} name={NAMES[i]} r2={C11_R2[i]} />
      ))}
    </g>
  );
  const c12Vals = [C12_145_800, C12_145_1200, C12_145_1600];
  const c12FitVals = [C12_FIT_145_800, C12_FIT_145_1200, C12_FIT_145_1600];
  const c12Series = c12Vals.map((v, i) => ({ data: zipTV(T_C1, v), color: COLORS6[i + 3], kind: 'dot', size: 8 }));
  const c12Fits = c12FitVals.map((v, i) => ({ data: zipTV(T_FIT1, v), color: COLORS6[i + 3] }));
  const c12Rows = [858.5, 876, 894];
  const legendC12 = (
    <g>
      {[0, 1, 2].map((i) => (
        <LegRow key={'c12' + i} x1={203} x2={228} y={c12Rows[i]} color={COLORS6[i + 3]} kind="dot" size={7} tx={240} fs={13.8} name={NAMES[i + 3]} r2={C12_R2[i]} />
      ))}
    </g>
  );

  // ---- c2 ----
  const c2X = xTick({ major: [2, 4, 6], majorLen: 9, minorLen: 5.5, dir: -1, fs: 17, sx: 1, dy: 21, fmt: f0, sw: 2.5 });
  const c2Y = yTick({ major: [-1, -0.8, -0.6, -0.4], majorLen: 7, minorLen: 4, fs: 17, sx: 1, gap: 8, fmt: f1, sw: 2.5 });
  const c21Vals = [C21_125_800, C21_125_1200, C21_125_1600];
  const c21FitVals = [C21_FIT_125_800, C21_FIT_125_1200, C21_FIT_125_1600];
  const c21Series = c21Vals.map((v, i) => ({ data: zipTV(T_C2, v), color: COLORS6[i], kind: 'tri', size: 7.5 }));
  const c21Fits = c21FitVals.map((v, i) => ({ data: zipTV(T_FIT2, v), color: COLORS6[i] }));
  const c21Rows = [856, 876, 894];
  const legendC21 = (
    <g>
      {[0, 1, 2].map((i) => (
        <LegRow key={'c21' + i} x1={602} x2={626} y={c21Rows[i]} color={COLORS6[i]} kind="tri" size={7} tx={638} fs={14} name={NAMES[i]} r2={C21_R2[i]} />
      ))}
    </g>
  );
  const c22Vals = [C22_145_800, C22_145_1200, C22_145_1600];
  const c22FitVals = [C22_FIT_145_800, C22_FIT_145_1200, C22_FIT_145_1600];
  const c22Series = c22Vals.map((v, i) => ({ data: zipTV(T_C2, v), color: COLORS6[i + 3], kind: 'dot', size: 8 }));
  const c22Fits = c22FitVals.map((v, i) => ({ data: zipTV(T_FIT2, v), color: COLORS6[i + 3] }));
  const c22Rows = [1136, 1157, 1178];
  const legendC22 = (
    <g>
      {[0, 1, 2].map((i) => (
        <LegRow key={'c22' + i} x1={185} x2={210} y={c22Rows[i]} color={COLORS6[i + 3]} kind="dot" size={7} tx={222} fs={14} name={NAMES[i + 3]} r2={C22_R2[i]} />
      ))}
    </g>
  );

  // ---- c3 ----
  const c3X = xTick({ major: [1, 2, 3, 4], majorLen: 8, minorLen: 4.5, dir: -1, fs: 14, sx: 1, dy: 18, fmt: f0, sw: 2.5 });
  const c3Y = yTick({ major: [-1, -0.8, -0.6, -0.4], majorLen: 6, minorLen: 3.5, fs: 14, sx: 1, gap: 7, fmt: f1, sw: 2.5 });
  const c3Vals = [C3_125_800, C3_125_1200, C3_125_1600, C3_145_800, C3_145_1200, C3_145_1600];
  const c3FitVals = [C3_FIT_125_800, C3_FIT_125_1200, C3_FIT_125_1600, C3_FIT_145_800, C3_FIT_145_1200, C3_FIT_145_1600];
  const c3Traces = c3Vals.map((v, i) => ({ data: zipTV(T_C3, v), color: COLORS6[i], kind: SHAPES6[i], size: 5.5 }));
  const c3Fits = c3FitVals.map((v, i) => ({ data: zipTV(T_FIT3, v), color: COLORS6[i] }));
  const c3Rows = [973.5, 993.5, 1013];
  const legendC3 = (
    <g>
      {[0, 1, 2].map((i) => (
        <g key={'c3' + i}>
          <LegRow x1={435} x2={458} y={c3Rows[i]} color={COLORS6[i]} kind="tri" size={6} tx={467} fs={12.8} name={NAMES[i]} r2={C3_R2[i]} />
          <LegRow x1={607} x2={629} y={c3Rows[i]} color={COLORS6[i + 3]} kind="dot" size={6} tx={640} fs={12.8} name={NAMES[i + 3]} r2={C3_R2[i + 3]} />
        </g>
      ))}
    </g>
  );

  return (
    <div style={{ position: 'absolute', left: 0, top: 0, width: 800, height: 1229, background: '#fff', overflow: 'hidden' }}>
      {/* (a) data + y axis */}
      <Panel px={95} py={27} pw={332} ph={338} ml={90} mt={20} mr={50} mb={8} hideX
        xDomain={[0, 8]} yDomain={[-1.1, 0.2]} xTicks={A_XTICKS} yTicks={A_YTICKS} yTick={aY} aw={3}
        series={aSeries} legend={legendA} />
      {/* (a) x axis crossing at y = 0 */}
      <Panel px={95} py={79} pw={332} ph={60} ml={10} mt={10} mr={10} mb={5} hideY
        xDomain={[0, 8]} yDomain={[0, 1]} xTicks={A_XTICKS} yTicks={[0, 1]} xTick={aX} aw={3} ghost={A_XRANGE} />
      {/* (b) */}
      <Panel px={97} py={454} pw={282} ph={189} ml={60} mt={62} mr={12} mb={10}
        xDomain={[0, 1.6]} yDomain={[-1, 0]} xTicks={B_XTICKS} yTicks={B_YTICKS} xTick={bX} yTick={bY} aw={2}
        series={bSeries} fits={bFits} fitW={2} fitDash="6 4" legend={legendB} />
      {/* (c1-1) */}
      <Panel px={457} py={422} pw={328} ph={219} ml={50} mt={20} mr={12} mb={12}
        xDomain={[0, 4]} yDomain={[-1, -0.35]} xTicks={C1_XTICKS} yTicks={C1_YTICKS} xTick={c1X} yTick={c1Y} aw={2.5}
        series={c11Series} fits={c11Fits} legend={legendC11} />
      {/* (c1-2) */}
      <Panel px={67} py={702} pw={328} ph={219} ml={50} mt={20} mr={12} mb={12}
        xDomain={[0, 4]} yDomain={[-1, -0.35]} xTicks={C1_XTICKS} yTicks={C1_YTICKS} xTick={c1X} yTick={c1Y} aw={2.5}
        series={c12Series} fits={c12Fits} legend={legendC12} />
      {/* (c2-1) */}
      <Panel px={465} py={700} pw={328} ph={220} ml={50} mt={20} mr={6} mb={12}
        xDomain={[0, 6]} yDomain={[-1, -0.3]} xTicks={C2_XTICKS} yTicks={C2_YTICKS} xTick={c2X} yTick={c2Y} aw={2.5}
        series={c21Series} fits={c21Fits} legend={legendC21} />
      {/* (c2-2) */}
      <Panel px={65} py={986} pw={328} ph={220} ml={50} mt={20} mr={12} mb={12}
        xDomain={[0, 6]} yDomain={[-1, -0.3]} xTicks={C2_XTICKS} yTicks={C2_YTICKS} xTick={c2X} yTick={c2Y} aw={2.5}
        series={c22Series} fits={c22Fits} legend={legendC22} />
      {/* (c3) */}
      <Panel px={492} py={1034} pw={278} ph={186} ml={62} mt={80} mr={20} mb={8}
        xDomain={[0, 4]} yDomain={[-1, -0.3]} xTicks={C3_XTICKS} yTicks={C3_YTICKS} xTick={c3X} yTick={c3Y} aw={2.5}
        traces={c3Traces} fits={c3Fits} fitW={2.5} fitDash="5 4" legend={legendC3} />

      {/* titles and panel labels */}
      <svg width={800} height={1229} style={{ position: 'absolute', left: 0, top: 0, pointerEvents: 'none' }}>
        <Txt x={3} y={21} fs={24} len={21}>(a)</Txt>
        <Txt x={5} y={393} fs={28} len={32}>(b)</Txt>
        <Txt x={402} y={395} fs={28} len={68}>(c1-1)</Txt>
        <Txt x={2} y={680} fs={28} len={65}>(c1-2)</Txt>
        <Txt x={403} y={680} fs={28} len={67}>(c2-1)</Txt>
        <Txt x={2} y={963} fs={28} len={66}>(c2-2)</Txt>
        <Txt x={405} y={957} fs={28} len={45}>(c3)</Txt>

        <Txt x={262} y={58} fs={30} len={67} anchor="middle">Time (s)</Txt>
        <Txt rot x={46} y={196} fs={21} len={322}>Normalized Fluorescence</Txt>

        <Txt x={238} y={482} fs={16} len={57} anchor="middle">Time (s)</Txt>
        <Txt rot x={56} y={549} fs={16} len={175}>Normalized Fluorescence</Txt>

        <Txt x={623} y={453} fs={18} len={65} anchor="middle">Time (s)</Txt>
        <Txt rot x={413} y={533} fs={17} len={206}>Normalized Fluorescence</Txt>

        <Txt x={232} y={735} fs={18} len={66} anchor="middle">Time (s)</Txt>
        <Txt rot x={17} y={810} fs={17} len={205}>Normalized Fluorescence</Txt>

        <Txt x={630} y={726} fs={18} len={64} anchor="middle">Time (s)</Txt>
        <Txt rot x={418} y={812} fs={17} len={217}>Normalized Fluorescence</Txt>

        <Txt x={230} y={1016} fs={18} len={66} anchor="middle">Time (s)</Txt>
        <Txt rot x={17} y={1095} fs={17} len={206}>Normalized Fluorescence</Txt>

        <Txt x={631} y={1063} fs={16} len={57} anchor="middle">Time (s)</Txt>
        <Txt rot x={453} y={1127} fs={15} len={173}>Normalized Fluorescence</Txt>
      </svg>
    </div>
  );
}
